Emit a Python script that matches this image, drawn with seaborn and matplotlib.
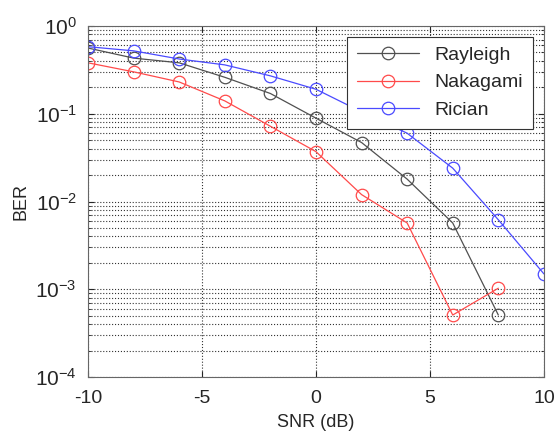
import numpy as np
import pandas as pd
import matplotlib
matplotlib.use('Agg')
import matplotlib.pyplot as plt
import seaborn as sns
from matplotlib.ticker import LogLocator, NullFormatter

# Dados
snr_db = [-10, -8, -6, -4, -2, 0, 2, 4, 6, 8, 10]
rayleigh = [0.56, 0.43, 0.38, 0.26, 0.17, 0.089, 0.047, 0.018, 0.0057, 0.00051]
nakagami = [0.38, 0.30, 0.23, 0.14, 0.072, 0.037, 0.012, 0.0057, 0.00051, 0.00103]
rician = [0.58, 0.52, 0.42, 0.36, 0.27, 0.19, 0.105, 0.060, 0.024, 0.0062, 0.0015]
y_ticks = [1e-4, 1e-3, 1e-2, 1e-1, 1]
y_labels = ['$10^{-4}$', '$10^{-3}$', '$10^{-2}$', '$10^{-1}$', '$10^{0}$']

series = {'Rayleigh': rayleigh, 'Nakagami': nakagami, 'Rician': rician}
colors = {'Rayleigh': '#505050', 'Nakagami': '#ff4a4a', 'Rician': '#4a4aff'}

frames = []
for nome, vals in series.items():
    frames.append(pd.DataFrame({'SNR': snr_db[:len(vals)], 'BER': vals, 'canal': nome}))
df = pd.concat(frames, ignore_index=True)

sns.set_style('white')
plt.rcParams['font.family'] = ['Liberation Sans', 'DejaVu Sans']
plt.rcParams['axes.unicode_minus'] = False
plt.rcParams['mathtext.fontset'] = 'custom'
plt.rcParams['mathtext.rm'] = 'Liberation Sans'
plt.rcParams['mathtext.default'] = 'rm'

fig = plt.figure(figsize=(5.55, 4.32), dpi=100)
ax = fig.add_axes([0.1586, 0.127, 0.8214, 0.813])

for nome in series:
    sns.lineplot(data=df[df['canal'] == nome], x='SNR', y='BER', ax=ax,
                 color=colors[nome], label=nome, linewidth=0.9,
                 marker='o', markersize=9, markerfacecolor='none',
                 markeredgecolor=colors[nome], markeredgewidth=0.9)

ax.set_yscale('log')
ax.set_xlim(-10, 10)
ax.set_ylim(1e-4, 1)
ax.set_xticks([-10, -5, 0, 5, 10])
ax.set_xticklabels(['-10', '-5', '0', '5', '10'])
ax.set_yticks(y_ticks)
ax.set_yticklabels(y_labels)
ax.yaxis.set_minor_locator(LogLocator(base=10, subs=np.arange(2, 10), numticks=20))
ax.yaxis.set_minor_formatter(NullFormatter())

ax.grid(True, which='major', axis='both', linestyle=':', color='#333333', linewidth=0.8)
ax.grid(True, which='minor', axis='y', linestyle=':', color='#333333', linewidth=0.8)
ax.set_axisbelow(True)

ax.tick_params(axis='x', which='major', direction='in', labelsize=14, length=4,
               top=True, bottom=True, pad=9)
ax.tick_params(axis='y', which='major', direction='in', labelsize=15, length=4,
               left=True, right=True, pad=8)
ax.tick_params(axis='y', which='minor', direction='in', length=2, left=True, right=True)
for s in ax.spines.values():
    s.set_color('#666666')
    s.set_linewidth(0.8)

ax.set_xlabel('SNR (dB)', fontsize=13, labelpad=5)
ax.set_ylabel('BER', fontsize=13, labelpad=4)

leg = ax.legend(loc='upper right', fontsize=14, fancybox=False, framealpha=1,
                edgecolor='#333333', handlelength=3.2, borderpad=0.5,
                labelspacing=0.5, borderaxespad=0, bbox_to_anchor=(0.976, 0.969))
leg.get_frame().set_linewidth(0.8)

fig.savefig('out.png', dpi=100)
